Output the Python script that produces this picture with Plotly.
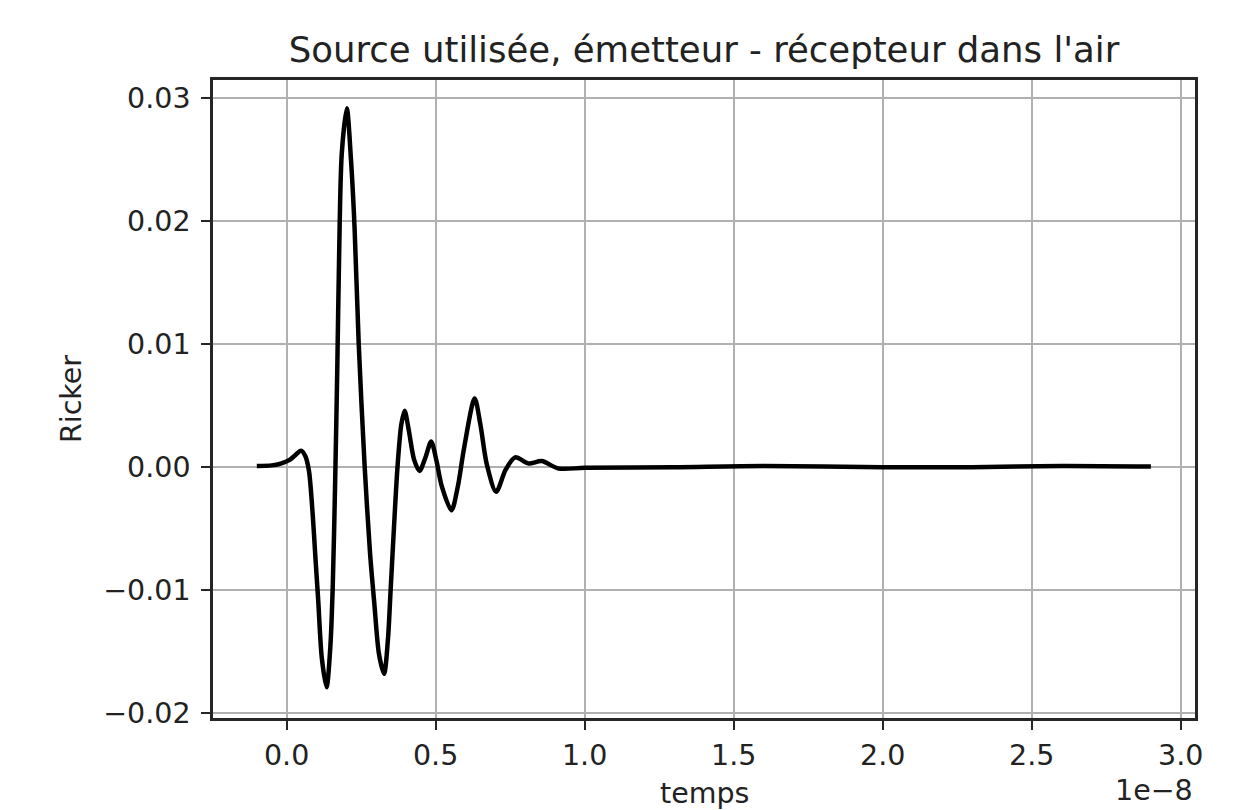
import plotly.graph_objects as go

# time in units of 1e-8 s
temps_1e8 = [-0.10, -0.05, -0.02, 0.01, 0.030, 0.048, 0.063, 0.075, 0.088, 0.097, 0.106,
             0.118, 0.134, 0.147, 0.155, 0.163, 0.170, 0.176, 0.185, 0.202, 0.216,
             0.228, 0.242, 0.262, 0.280, 0.294, 0.310, 0.327, 0.340, 0.349, 0.360,
             0.372, 0.385, 0.396, 0.410, 0.428, 0.446, 0.466, 0.485, 0.503, 0.520,
             0.553, 0.575, 0.595, 0.631, 0.650, 0.672, 0.703, 0.735, 0.767, 0.812,
             0.856, 0.912, 1.00, 1.30, 1.60, 2.00, 2.30, 2.60, 2.90]
ricker = [0.0001, 0.00015, 0.0003, 0.0006, 0.0010, 0.00135, 0.0009, -0.0003, -0.0040, -0.0075, -0.0108,
          -0.0155, -0.0179, -0.0145, -0.0095, -0.0010, 0.0080, 0.0170, 0.0255, 0.0292, 0.0250,
          0.0195, 0.0100, 0.0000, -0.0070, -0.0110, -0.0152, -0.0168, -0.0140, -0.0100, -0.0050,
          0.0000, 0.0035, 0.0046, 0.0030, 0.0006, -0.0003, 0.0008, 0.0021, 0.0005, -0.0015,
          -0.0035, -0.0015, 0.0015, 0.0056, 0.0035, 0.0002, -0.0020, -0.0002, 0.0008, 0.0003,
          0.0005, -0.0001, -0.00005, 0.0000, 0.0001, 0.0000, 0.0000, 0.0001, 0.00005]

x_ticks = [0.0, 0.5, 1.0, 1.5, 2.0, 2.5, 3.0]
x_tick_labels = ["0.0", "0.5", "1.0", "1.5", "2.0", "2.5", "3.0"]
y_ticks = [-0.02, -0.01, 0.0, 0.01, 0.02, 0.03]
y_tick_labels = ["\u22120.02", "\u22120.01", "0.00", "0.01", "0.02", "0.03"]

title = "Source utilisée, émetteur - récepteur dans l'air"
x_label = "temps"
y_label = "Ricker"
x_offset_label = "1e\u22128"
FONT = "DejaVu Sans"
TXT = "#222222"

x_vals = [t * 1e-8 for t in temps_1e8]

fig = go.Figure()
fig.add_trace(go.Scatter(
    x=x_vals, y=ricker, mode="lines",
    line=dict(color="black", width=4.5, shape="spline", smoothing=0.8),
    showlegend=False,
))

axis_common = dict(
    showline=True, mirror=True, linecolor="#262626", linewidth=2.5,
    showgrid=True, gridcolor="#b0b0b0", gridwidth=2.3,
    ticks="outside", ticklen=9, tickwidth=2.3, tickcolor="#262626",
    zeroline=False, automargin=False,
    tickfont=dict(family=FONT, size=28.5, color=TXT),
)

# the page body has an 8px margin, so the figure is sized 1250x802
W, H = 1250, 802
fig.update_layout(
    width=W, height=H,
    margin=dict(l=205, r=63, t=72, b=92),
    paper_bgcolor="white", plot_bgcolor="white",
    title=dict(text=title, x=0.5, xref="paper", xanchor="center",
               y=1 - 42 / H, yref="container", yanchor="middle",
               font=dict(family=FONT, size=35.5, color=TXT)),
    xaxis=dict(range=[-0.247e-8, 3.048e-8],
               tickvals=[v * 1e-8 for v in x_ticks], ticktext=x_tick_labels,
               ticklabelstandoff=1,
               **axis_common),
    yaxis=dict(range=[-0.0204, 0.0315],
               tickvals=y_ticks, ticktext=y_tick_labels,
               title=dict(text=y_label, font=dict(family=FONT, size=28.5, color=TXT), standoff=14),
               ticklabelstandoff=5,
               **axis_common),
)

fig.add_annotation(text=x_label, xref="paper", yref="paper", x=0.5, y=-0.118,
                   xanchor="center", yanchor="middle", showarrow=False,
                   font=dict(family=FONT, size=28.5, color=TXT))
fig.add_annotation(text=x_offset_label, xref="paper", yref="paper", x=1.0, y=-0.113,
                   xanchor="right", yanchor="middle", showarrow=False,
                   font=dict(family=FONT, size=28.5, color=TXT))

fig.write_html("out.html")
